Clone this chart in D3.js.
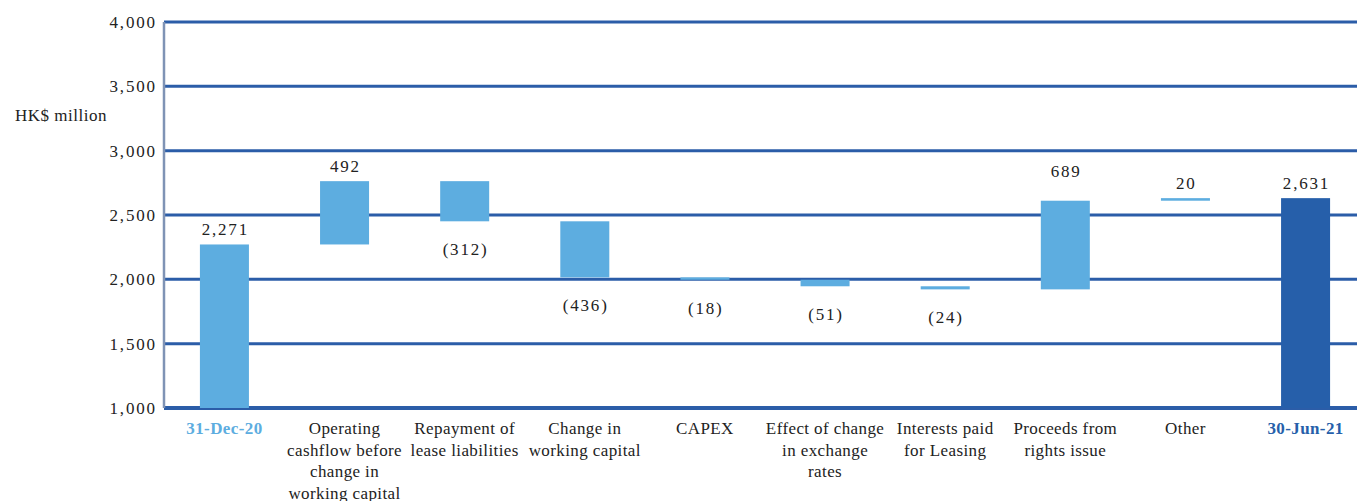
<!DOCTYPE html>
<html>
<head>
<meta charset="utf-8">
<script src="https://cdn.jsdelivr.net/npm/d3@7"></script>
<style>
  body { margin: 0; background: #fff; }
  svg text { font-family: "Liberation Serif", "Times New Roman", serif; fill: #222; }
</style>
</head>
<body>
<div id="chart"></div>
<script>
//Chart data
var categories = ["31-Dec-20", "Operating|cashflow before|change in|working capital", "Repayment of|lease liabilities",
  "Change in|working capital", "CAPEX", "Effect of change|in exchange|rates", "Interests paid|for Leasing",
  "Proceeds from|rights issue", "Other", "30-Jun-21"];
var changes = [2271, 492, -312, -436, -18, -51, -24, 689, 20, 2631];
var kinds = ["total", "delta", "delta", "delta", "delta", "delta", "delta", "delta", "delta", "total"];
var yTicks = [1000, 1500, 2000, 2500, 3000, 3500, 4000];

//Dimensions
var width = 1357, height = 501;
var margin = {top: 22, right: -9, bottom: 93, left: 164};
var innerW = width - margin.left - margin.right,
    innerH = height - margin.top - margin.bottom;

var lightBlue = "#5DADE0", darkBlue = "#265FAA", gridBlue = "#2B5DA8";
var serif = "'Liberation Serif', 'Times New Roman', serif";
var numSpacing = 1.8; //numbers in the original are drawn wide

//Build waypoints for the waterfall
var running = 0;
var bars = categories.map(function(c, i) {
  var lo, hi;
  if (kinds[i] === "total") { lo = 1000; hi = changes[i]; running = changes[i]; }
  else { var start = running; running += changes[i]; lo = Math.min(start, running); hi = Math.max(start, running); }
  return {cat: c, value: changes[i], kind: kinds[i], lo: lo, hi: hi, idx: i};
});

var x = d3.scaleBand().domain(d3.range(categories.length)).range([0, innerW]).paddingInner(0.592).paddingOuter(0.299);
var y = d3.scaleLinear().domain([1000, 4000]).range([innerH, 0]);

var svg = d3.select("#chart").append("svg")
    .attr("width", width).attr("height", height)
    .attr("font-family", serif)
  .append("g")
    .attr("transform", "translate(" + margin.left + "," + margin.top + ")");

//Horizontal grid
svg.append("g")
  .selectAll("line").data(yTicks).enter().append("line")
    .attr("x1", 0).attr("x2", innerW)
    .attr("y1", function(d) { return y(d); }).attr("y2", function(d) { return y(d); })
    .attr("stroke", gridBlue)
    .attr("stroke-width", function(d) { return d === 1000 ? 4 : 3; });

//Left axis line
svg.append("line").attr("x1", 0).attr("x2", 0).attr("y1", 0).attr("y2", innerH)
  .attr("stroke", "#7F93B5").attr("stroke-width", 2.5);

//Y tick labels
svg.append("g").selectAll("text").data(yTicks).enter().append("text")
  .attr("x", -9 + numSpacing).attr("y", function(d) { return y(d); })
  .attr("dy", "0.35em").attr("text-anchor", "end")
  .style("font-family", serif).style("font-size", "17px")
  .style("letter-spacing", numSpacing + "px")
  .text(d3.format(","));

svg.append("text").attr("x", -149).attr("y", 93).attr("dy", "0.35em")
  .style("font-family", serif).style("font-size", "17px")
  .style("letter-spacing", "0.5px").text("HK$ million");

//Bars
svg.append("g").selectAll("rect").data(bars).enter().append("rect")
  .attr("x", function(d) { return x(d.idx); })
  .attr("width", x.bandwidth())
  .attr("y", function(d) { return y(d.hi); })
  .attr("height", function(d) { return Math.max(1.2, y(d.lo) - y(d.hi)); })
  .attr("fill", function(d) { return d.idx === categories.length - 1 ? darkBlue : lightBlue; });

//Value labels
var fmt = d3.format(",");
svg.append("g").selectAll("text").data(bars).enter().append("text")
  .attr("x", function(d) { return x(d.idx) + x.bandwidth() / 2 + numSpacing / 2; })
  .attr("y", function(d) {
    if (d.value < 0) return y(d.lo) + 28;
    return y(d.hi) - (d.idx === 7 ? 30 : 15);
  })
  .attr("dy", "0.35em").attr("text-anchor", "middle")
  .style("font-family", serif).style("font-size", "17px")
  .style("letter-spacing", numSpacing + "px")
  .text(function(d) { return d.value < 0 ? "(" + fmt(-d.value) + ")" : fmt(d.value); });

//Category labels
var xl = svg.append("g").selectAll("text").data(bars).enter().append("text")
  .attr("x", function(d) { return x(d.idx) + x.bandwidth() / 2; })
  .attr("y", innerH + 26)
  .attr("text-anchor", "middle")
  .style("font-family", serif).style("font-size", "17px")
  .style("letter-spacing", "0.4px")
  .style("font-weight", function(d) { return d.kind === "total" ? "bold" : "normal"; })
  .style("fill", function(d) {
    if (d.kind !== "total") return "#222";
    return d.idx === 0 ? lightBlue : darkBlue;
  });

xl.each(function(d) {
  var t = d3.select(this);
  d.cat.split("|").forEach(function(line, j) {
    t.append("tspan").attr("x", x(d.idx) + x.bandwidth() / 2)
      .attr("dy", j === 0 ? 0 : 21.5).text(line);
  });
});
</script>
</body>
</html>
